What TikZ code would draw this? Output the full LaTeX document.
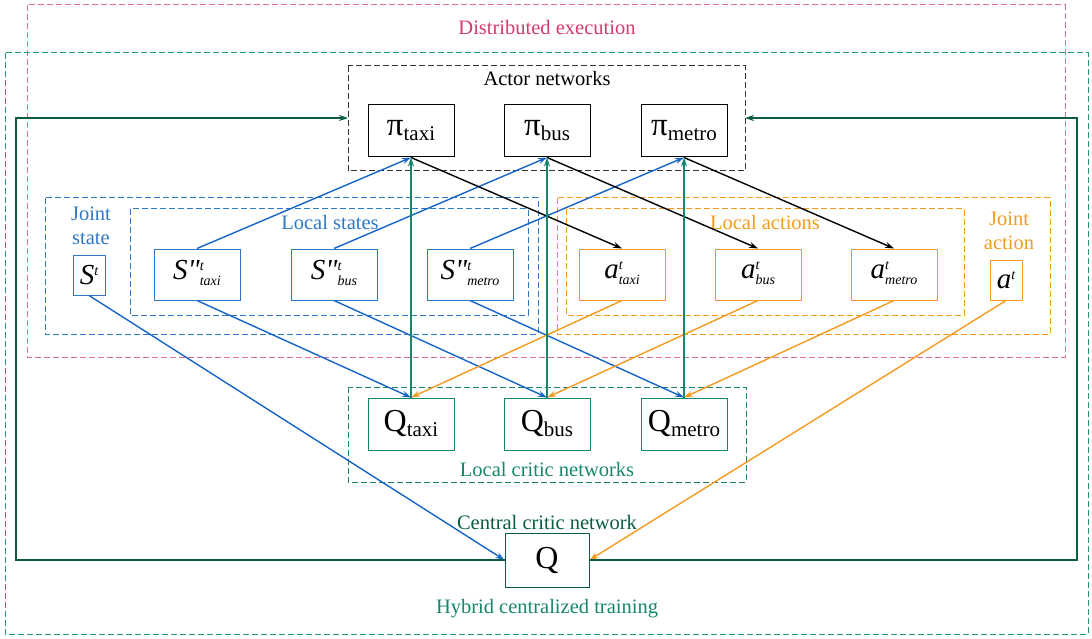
\documentclass[tikz,border=0pt]{standalone}
\usepackage{fontspec}
\setmainfont{Liberation Serif}
\usetikzlibrary{arrows.meta}
\definecolor{pinkc}{HTML}{E0709A}
\definecolor{pinkt}{HTML}{D63A6C}
\definecolor{greenc}{HTML}{1E9C76}
\definecolor{tealc}{HTML}{16876C}
\definecolor{dgreen}{HTML}{0B5C45}
\definecolor{bluec}{HTML}{1565C8}
\definecolor{bluet}{HTML}{2E78C8}
\definecolor{orangec}{HTML}{F59A1E}
\definecolor{oranget}{HTML}{F39C1A}
\newcommand{\lowsub}[1]{\raisebox{-5pt}{\fontsize{21}{21}\selectfont #1}}
\newcommand{\supsubit}[2]{\raisebox{-6pt}{\fontsize{14}{14}\selectfont\itshape\begin{tabular}[b]{@{}l@{}}#1\\[1pt]#2\end{tabular}}}
\tikzset{
  grp/.style={draw, dashed, line width=1pt, dash pattern=on 6pt off 3pt},
  pibox/.style={draw, line width=1pt, minimum width=86pt, minimum height=52pt, inner sep=0pt, font=\fontsize{33}{33}\selectfont},
  sbox/.style={draw=bluet, line width=1pt, minimum width=86pt, minimum height=51pt, inner sep=0pt, font=\fontsize{29}{29}\selectfont\itshape},
  abox/.style={draw=orangec, line width=1pt, minimum width=86pt, minimum height=51pt, inner sep=0pt, font=\fontsize{29}{29}\selectfont\itshape},
  qbox/.style={draw=tealc, line width=1pt, minimum width=86pt, minimum height=52pt, inner sep=0pt, font=\fontsize{32}{32}\selectfont},
  lbl/.style={font=\fontsize{20.5}{20.5}\selectfont, inner sep=0pt, align=center},
  arr/.style={line width=1.4pt, -{Stealth[length=9pt,width=6pt]}},
}
\begin{document}
\begin{tikzpicture}[x=1pt,y=-1pt]
\useasboundingbox (0,0) rectangle (1092,639);
% group boxes
\draw[grp, draw=pinkc] (27,5) rectangle (1065,357);
\draw[grp, draw=greenc] (5,53) rectangle (1088,634);
\draw[grp, draw=black!80] (348,66) rectangle (745,171);
\draw[grp, draw=bluet] (45,198) rectangle (538,334);
\draw[grp, draw=bluet] (130,209) rectangle (528,315);
\draw[grp, draw=orangec] (557,198) rectangle (1050,334);
\draw[grp, draw=orangec] (566,209) rectangle (964,315);
\draw[grp, draw=tealc] (348,387) rectangle (746,482);
% labels
\node[lbl, text=pinkt] (ldist) at (547,27) {Distributed execution};
\node[lbl] (lactor) at (547,78) {Actor networks};
\node[lbl, text=bluet] (ljs) at (91,226) {Joint\\[4pt]state};
\node[lbl, text=bluet] (lls) at (330,222) {Local states};
\node[lbl, text=oranget] (lla) at (765,222) {Local actions};
\node[lbl, text=oranget] (lja) at (1009,231) {Joint\\[4pt]action};
\node[lbl, text=tealc] (llc) at (547,469) {Local critic networks};
\node[lbl, text=dgreen] (lcc) at (547,522) {Central critic network};
\node[lbl, text=tealc] (lhy) at (547,609) {Hybrid centralized training};
% actor nodes
\node[pibox] (pt) at (411,131) {π\lowsub{taxi}};
\node[pibox] (pb) at (547,131) {π\lowsub{bus}};
\node[pibox] (pm) at (684,131) {π\lowsub{metro}};
% state nodes
\node[draw=bluet, line width=1pt, minimum width=32pt, minimum height=40pt, inner sep=0pt, font=\fontsize{29}{29}\selectfont\itshape] (sj) at (89,275) {S\raisebox{9pt}{\fontsize{14}{14}\selectfont t}};
\node[sbox] (st) at (197,274.5) {S\textquotedbl\supsubit{t}{taxi}};
\node[sbox] (sb) at (334,274.5) {S\textquotedbl\supsubit{t}{bus}};
\node[sbox] (sm) at (470,274.5) {S\textquotedbl\supsubit{t}{metro}};
% action nodes
\node[abox] (at) at (622,274.5) {a\supsubit{t}{taxi}};
\node[abox] (ab) at (758,274.5) {a\supsubit{t}{bus}};
\node[abox] (am) at (894,274.5) {a\supsubit{t}{metro}};
\node[draw=orangec, line width=1pt, minimum width=32pt, minimum height=40pt, inner sep=0pt, font=\fontsize{29}{29}\selectfont\itshape] (aj) at (1006,280) {a\raisebox{9pt}{\fontsize{14}{14}\selectfont t}};
% critics
\node[qbox] (qt) at (411,424) {Q\lowsub{taxi}};
\node[qbox] (qb) at (547,424) {Q\lowsub{bus}};
\node[qbox] (qm) at (684,424) {Q\lowsub{metro}};
\node[draw=dgreen, line width=1pt, minimum width=84pt, minimum height=54pt, inner sep=0pt, font=\fontsize{32}{32}\selectfont] (q) at (547,560) {Q};
% arrows states -> actors
\draw[arr, bluec] (st.north) -- (pt.south);
\draw[arr, bluec] (sb.north) -- (pb.south);
\draw[arr, bluec] (sm.north) -- (pm.south);
% actors -> actions
\draw[arr, black] (pt.south) -- (at.north);
\draw[arr, black] (pb.south) -- (ab.north);
\draw[arr, black] (pm.south) -- (am.north);
% states -> critics
\draw[arr, bluec] (st.south) -- (qt.north);
\draw[arr, bluec] (sb.south) -- (qb.north);
\draw[arr, bluec] (sm.south) -- (qm.north);
% actions -> critics
\draw[arr, orangec] (at.south) -- (qt.north);
\draw[arr, orangec] (ab.south) -- (qb.north);
\draw[arr, orangec] (am.south) -- (qm.north);
% critics -> actors
\draw[arr, tealc] (qt.north) -- (pt.south);
\draw[arr, tealc] (qb.north) -- (pb.south);
\draw[arr, tealc] (qm.north) -- (pm.south);
% joint -> central
\draw[arr, bluec] (sj.south) -- (q.west);
\draw[arr, orangec] (aj.south) -- (q.east);
% central feedback
\coordinate (fl) at (348,118);
\coordinate (fr) at (745,118);
\draw[arr, dgreen, line width=1.8pt] (q.west) -| (16,118) -- (fl);
\draw[arr, dgreen, line width=1.8pt] (q.east) -| (1077,118) -- (fr);
\end{tikzpicture}
\end{document}
